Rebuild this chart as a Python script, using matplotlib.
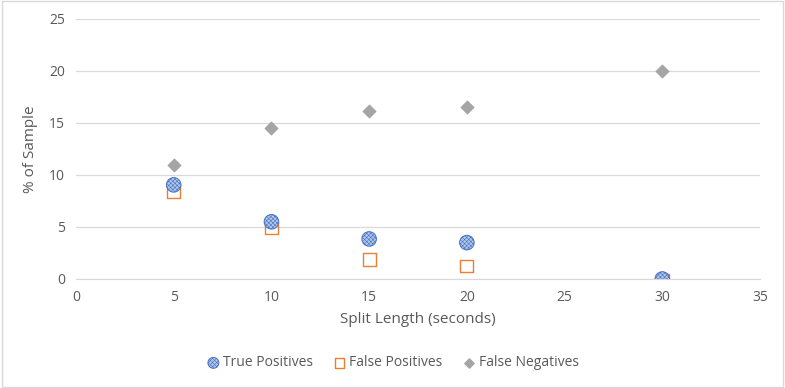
import matplotlib.pyplot as plt
from matplotlib.patches import Rectangle

plt.rcParams['font.family'] = ['Open Sans', 'DejaVu Sans']
plt.rcParams['hatch.linewidth'] = 0.4

# split lengths (seconds)
split_len = [5, 10, 15, 20, 30]
true_pos = [9.05, 5.5, 3.85, 3.5, 0.0]
false_pos = [8.45, 4.9, 1.85, 1.25, -0.1]
false_neg = [11.0, 14.5, 16.15, 16.5, 20.0]

fig = plt.figure(figsize=(7.85, 3.88), dpi=100)
ax = fig.add_axes([76 / 785, 1 - 279 / 388, (760 - 76) / 785, (279 - 19) / 388])

ax.scatter(split_len, true_pos, s=110, facecolor='#b4c7e7', edgecolor='#4472c4',
           hatch='xxxxxxxx', linewidth=0.7, label='True Positives', zorder=4)
ax.scatter(split_len, false_pos, s=85, marker='s', facecolor='none', edgecolor='#ed7d31',
           linewidth=1.0, label='False Positives', zorder=3)
ax.scatter(split_len, false_neg, s=40, marker='D', facecolor='#a5a5a5', edgecolor='#a5a5a5',
           label='False Negatives', zorder=3)

ax.set_xlim(0, 35)
ax.set_ylim(0, 25)
ax.set_xticks(range(0, 36, 5))
ax.set_yticks(range(0, 26, 5))
ax.grid(axis='y', color='#d9d9d9', linewidth=0.9)
ax.set_axisbelow(True)
for s in ['top', 'right', 'left']:
    ax.spines[s].set_visible(False)
ax.spines['bottom'].set_color('#d9d9d9')
ax.tick_params(length=0, labelsize=10, colors='#595959', pad=8)

ax.set_xlabel('Split Length (seconds)', fontsize=11, color='#595959', labelpad=5)
ax.set_ylabel('% of Sample', fontsize=11, color='#595959', labelpad=8)

fig.legend(loc='center', bbox_to_anchor=(0.5, 1 - 363 / 388), ncol=3, frameon=False,
           fontsize=10, labelcolor='#595959', markerscale=0.75, handlelength=1.0,
           handletextpad=0.2, columnspacing=1.4)

fig.patches.append(Rectangle((0.003, 0.003), 0.994, 0.994, transform=fig.transFigure,
                             fill=False, edgecolor='#d9d9d9', linewidth=1))

fig.savefig('out.png', dpi=100)
